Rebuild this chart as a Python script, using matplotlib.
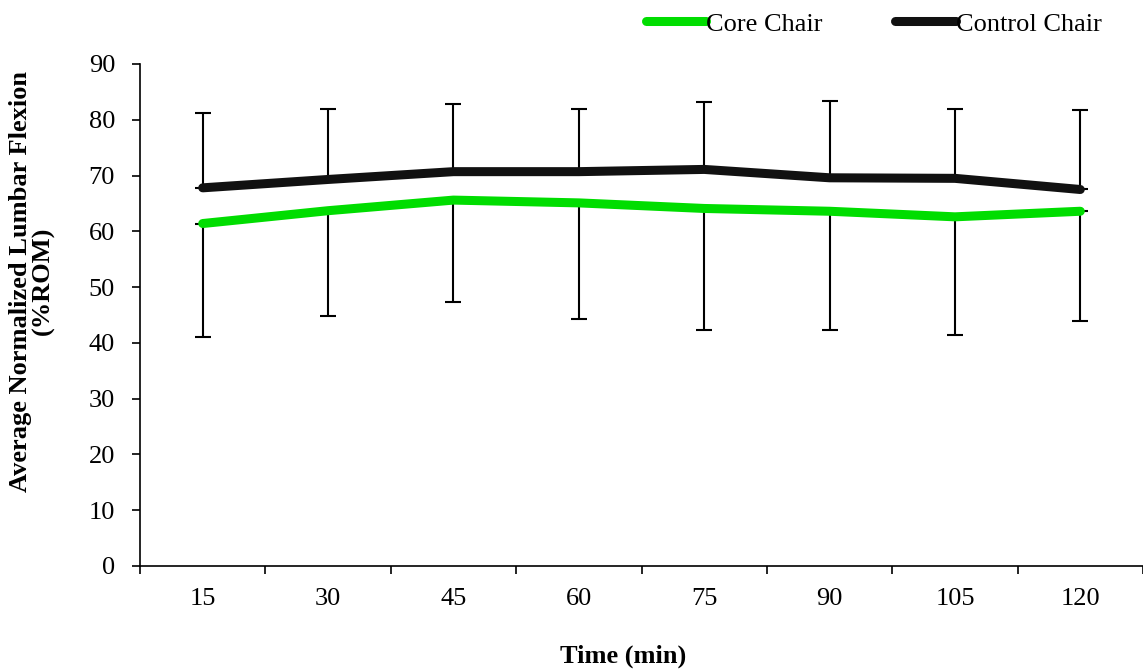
import matplotlib
matplotlib.use("Agg")
import matplotlib.pyplot as plt
import numpy as np

times = ["15", "30", "45", "60", "75", "90", "105", "120"]
core_mean = [61.4, 63.7, 65.6, 65.1, 64.1, 63.6, 62.6, 63.6]
core_sd = [20.4, 18.8, 18.3, 20.8, 21.8, 21.3, 21.2, 19.7]
control_mean = [67.8, 69.3, 70.7, 70.7, 71.1, 69.6, 69.5, 67.5]
control_sd = [13.5, 12.6, 12.2, 11.3, 12.0, 13.8, 12.4, 14.2]
y_ticks = [0, 10, 20, 30, 40, 50, 60, 70, 80, 90]

plt.rcParams['font.family'] = ['Liberation Serif', 'DejaVu Serif']
FS = 19

W, H = 1143, 671
fig = plt.figure(figsize=(W/100, H/100), dpi=100)
ax = fig.add_axes([140/W, 1-566/H, 1-140/W, (566-64)/H])

x = np.arange(1, len(times) + 1)
green = '#00DD00'
black = '#111111'

# error bars: control upward, core downward
ax.errorbar(x, control_mean, yerr=[np.zeros(len(x)), control_sd], fmt='none',
            ecolor='black', elinewidth=1.5, capsize=6, capthick=1.5, zorder=2)
ax.errorbar(x, core_mean, yerr=[core_sd, np.zeros(len(x))], fmt='none',
            ecolor='black', elinewidth=1.5, capsize=6, capthick=1.5, zorder=2)

ax.plot(x, core_mean, color=green, lw=6.5, solid_capstyle='round', solid_joinstyle='round',
        label='Core Chair', zorder=3)
ax.plot(x, control_mean, color=black, lw=6.5, solid_capstyle='round', solid_joinstyle='round',
        label='Control Chair', zorder=3)

ax.set_xlim(0.5, len(times) + 0.5)
ax.set_ylim(0, 90)
ax.set_yticks(y_ticks)
ax.set_yticklabels([str(t) for t in y_ticks])
ax.set_xticks(np.arange(0.5, len(times) + 1, 1.0))
ax.set_xticklabels([])
ax.set_xticks(x, minor=True)
ax.set_xticklabels(times, minor=True)
ax.tick_params(axis='x', which='major', direction='out', length=6, width=1.2)
ax.tick_params(axis='x', which='minor', length=0, pad=16, labelsize=FS)
ax.tick_params(axis='y', direction='out', length=6, width=1.2, pad=12, labelsize=FS)

for s in ['top', 'right']:
    ax.spines[s].set_visible(False)
ax.spines['left'].set_linewidth(1.2)
ax.spines['bottom'].set_linewidth(1.2)

fig.text(623/W, 1-656/H, 'Time (min)', fontsize=FS, fontweight='bold',
         ha='center', va='center')
fig.text(32/W, 1-281/H, 'Average Normalized Lumbar Flexion\n(%ROM)', fontsize=FS,
         fontweight='bold', rotation=90, ha='center', va='center',
         multialignment='center', linespacing=1.0)

leg = fig.legend(loc='center right', bbox_to_anchor=(1102/W, 1-24/H), ncol=2, frameon=False,
                 fontsize=FS, handlelength=2.3, handletextpad=0.0, columnspacing=2.75,
                 borderpad=0, borderaxespad=0)

fig.savefig('out.png', dpi=100)
